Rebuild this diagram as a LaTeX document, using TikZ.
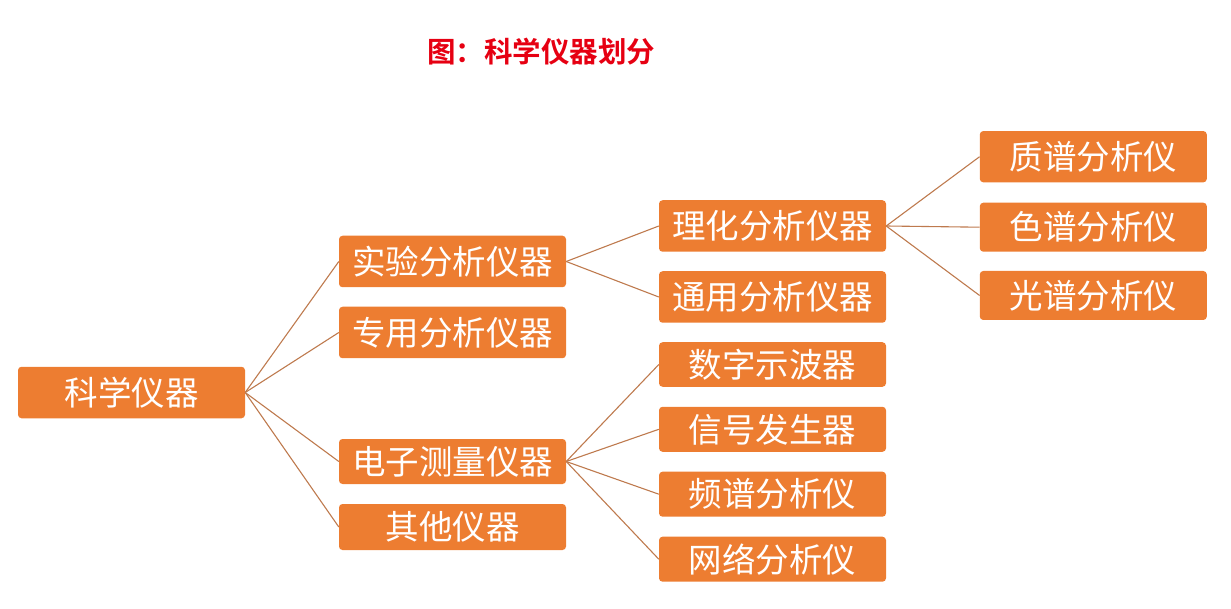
\documentclass[tikz,border=0pt]{standalone}
\usepackage{fontspec}
\setmainfont{Noto Sans CJK SC}
\newfontfamily\cjk{Noto Sans CJK SC}
\newfontfamily\cjkbold{Noto Sans CJK SC Bold}
\definecolor{boxorange}{RGB}{237,125,49}
\definecolor{linkbrown}{RGB}{190,122,78}
\definecolor{titlered}{RGB}{230,0,18}
\tikzset{
  ibox/.style={fill=boxorange, draw=none, rounded corners=3.5pt, text=white,
    minimum width=227pt, inner sep=0pt, font=\cjk\fontsize{33.5}{37}\selectfont},
  link/.style={draw=linkbrown, line width=1.1pt}
}
\begin{document}
\begin{tikzpicture}[x=1pt,y=-1pt]
\useasboundingbox (0,0) rectangle (1231,609);
\node[font=\cjkbold\fontsize{28.5}{32}\selectfont, text=titlered] (title) at (541,52) {图：科学仪器划分};

\node[ibox, minimum height=51.5pt] (root) at (131.5,392.5) {科学仪器};

\node[ibox, minimum height=51.5pt] (syfx) at (452.5,261.5) {实验分析仪器};
\node[ibox, minimum height=51.5pt] (zyfx) at (452.5,332.5) {专用分析仪器};
\node[ibox, minimum height=45pt] (dzcl) at (452.5,461.5) {电子测量仪器};
\node[ibox, minimum height=46pt] (qt) at (452.5,527) {其他仪器};

\node[ibox, minimum height=51.5pt] (lhfx) at (772.5,226) {理化分析仪器};
\node[ibox, minimum height=51.5pt] (tyfx) at (772.5,297) {通用分析仪器};
\node[ibox, minimum height=44.5pt] (szsb) at (772.5,364.5) {数字示波器};
\node[ibox, minimum height=45pt] (xhfs) at (772.5,429.3) {信号发生器};
\node[ibox, minimum height=45pt] (ppfx) at (772.5,494.2) {频谱分析仪};
\node[ibox, minimum height=45pt] (wlfx) at (772.5,559.2) {网络分析仪};

\node[ibox, minimum height=51.3pt] (zpfx) at (1093.3,156.7) {质谱分析仪};
\node[ibox, minimum height=49pt] (sepfx) at (1093.3,227.2) {色谱分析仪};
\node[ibox, minimum height=49pt] (gpfx) at (1093.3,295.5) {光谱分析仪};

\foreach \c in {syfx,zyfx,dzcl,qt} \draw[link] (root.east) -- (\c.west);
\foreach \c in {lhfx,tyfx} \draw[link] (syfx.east) -- (\c.west);
\foreach \c in {szsb,xhfs,ppfx,wlfx} \draw[link] (dzcl.east) -- (\c.west);
\foreach \c in {zpfx,sepfx,gpfx} \draw[link] (lhfx.east) -- (\c.west);
\end{tikzpicture}
\end{document}
